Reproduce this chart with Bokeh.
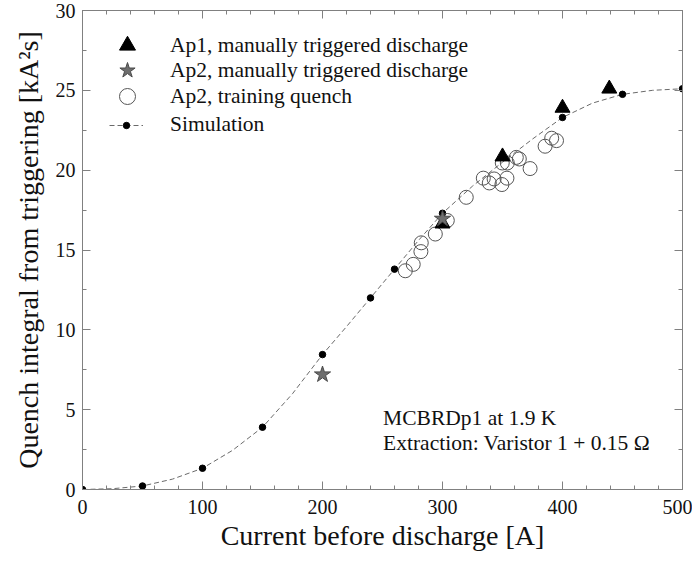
from bokeh.plotting import figure
from bokeh.models import (Legend, LegendItem, LinearAxis, Label, SingleIntervalTicker, Range1d,
                          CustomJSTickFormatter)
from bokeh.embed import file_html
from bokeh.resources import INLINE

# ---- data ----
sim_i = [0, 50, 100, 150, 200, 240, 260, 300, 400, 450, 500]
sim_q = [0.0, 0.22, 1.33, 3.9, 8.45, 12.0, 13.8, 17.3, 23.3, 24.75, 25.1]

curve_i = [0, 25, 50, 75, 100, 125, 150, 175, 200, 220, 240, 260, 280, 300, 325, 350, 375, 400, 425, 450, 475, 500]
curve_q = [0.0, 0.05, 0.22, 0.65, 1.33, 2.45, 3.9, 6.0, 8.45, 10.2, 12.0, 13.8, 15.6, 17.3, 19.0, 20.5, 21.95, 23.3, 24.2, 24.75, 25.0, 25.1]

ap1_i = [300, 350, 400, 439]
ap1_q = [16.65, 20.85, 23.9, 25.1]

ap2m_i = [200, 300]
ap2m_q = [7.2, 16.95]

ap2t_i = [269, 275.6, 282, 282.3, 294, 304, 319.8, 334, 339, 343, 349.5, 353.7, 349.8, 354, 361.5, 364, 373, 385.5, 391, 395]
ap2t_q = [13.7, 14.1, 14.9, 15.45, 16.0, 16.85, 18.3, 19.5, 19.2, 19.45, 19.1, 19.5, 20.45, 20.45, 20.8, 20.7, 20.1, 21.5, 22.0, 21.85]

labels = ["Ap1, manually triggered discharge",
          "Ap2, manually triggered discharge",
          "Ap2, training quench",
          "Simulation"]
note_lines = ["MCBRDp1 at 1.9 K", "Extraction: Varistor 1 + 0.15 \u03a9"]

FONT = "Liberation Serif"
AXC = "#808080"

p = figure(width=692, height=561, output_backend="svg", toolbar_location=None,
           x_range=Range1d(0, 500), y_range=Range1d(0, 30),
           min_border_left=82, min_border_right=10, min_border_top=10, min_border_bottom=72)
p.grid.visible = False
p.outline_line_color = AXC
p.background_fill_color = "white"

def style(ax, labels_on=True):
    ax.axis_line_color = AXC
    ax.major_tick_line_color = AXC
    ax.minor_tick_line_color = AXC
    ax.major_tick_in = 8
    ax.major_tick_out = 0
    ax.minor_tick_in = 4
    ax.minor_tick_out = 0
    ax.major_label_text_font = FONT
    ax.major_label_text_color = "#111111"
    ax.major_label_text_font_size = "20px"
    ax.axis_label_text_font = FONT
    ax.axis_label_text_font_style = "normal"
    ax.axis_label_text_font_size = "28px"
    ax.axis_label_text_color = "#111111"
    if not labels_on:
        ax.formatter = CustomJSTickFormatter(code="return ''")
        ax.major_label_standoff = 0

p.xaxis.ticker = SingleIntervalTicker(interval=100, num_minor_ticks=5)
p.yaxis.ticker = SingleIntervalTicker(interval=5, num_minor_ticks=2)
style(p.xaxis[0])
style(p.yaxis[0])
p.xaxis.axis_label = "Current before discharge [A]"
p.yaxis.axis_label = "Quench integral from triggering [kA\u00b2s]"
p.xaxis.major_label_standoff = 10
p.xaxis.axis_label_standoff = 3
p.yaxis.major_label_standoff = 7
p.yaxis.axis_label_standoff = 9

top = LinearAxis(ticker=SingleIntervalTicker(interval=100, num_minor_ticks=5))
right = LinearAxis(ticker=SingleIntervalTicker(interval=5, num_minor_ticks=2))
style(top, False)
style(right, False)
p.add_layout(top, "above")
p.add_layout(right, "right")

line_r = p.line(curve_i, curve_q, line_color="#6a6a6a", line_width=1, line_dash="5 3")
dots_r = p.scatter(sim_i, sim_q, marker="circle", size=6.5, fill_color="black", line_color="black")
circ_r = p.scatter(ap2t_i, ap2t_q, marker="circle", size=14, fill_color="white", fill_alpha=0.0,
                   line_color="#555555", line_width=1)
tri_r = p.scatter(ap1_i, ap1_q, marker="triangle", size=15, fill_color="black", line_color="black")
star_r = p.scatter(ap2m_i, ap2m_q, marker="star", size=17, fill_color="#6e6e6e", line_color="#4a4a4a", line_width=1)

common = dict(border_line_color=None, background_fill_alpha=0.0, padding=0, margin=0, spacing=0,
              label_text_font=FONT, label_text_font_size="21.5px", label_text_color="#111111",
              label_height=25)

# marker items: one legend each so the glyph box can be large (marker size = 0.4 * box)
for lab, rend, ybot in [(labels[0], tri_r, 424), (labels[1], star_r, 399), (labels[2], circ_r, 373)]:
    lg = Legend(items=[LegendItem(label=lab, renderers=[rend])], location=(25, ybot),
                glyph_width=40, glyph_height=40, label_standoff=23, **common)
    p.add_layout(lg, "center")

legend2 = Legend(items=[
    LegendItem(label=labels[3], renderers=[line_r, dots_r]),
], location=(27, 352), glyph_width=34, glyph_height=16, label_standoff=27, **common)
p.add_layout(legend2, "center")

for k, txt in enumerate(note_lines):
    p.add_layout(Label(x=250.5, y=[4.45, 2.9][k], text=txt, text_font=FONT, text_font_size="21.5px",
                       text_color="#111111", text_baseline="alphabetic"))

open("out.html", "w").write(file_html(p, INLINE))
